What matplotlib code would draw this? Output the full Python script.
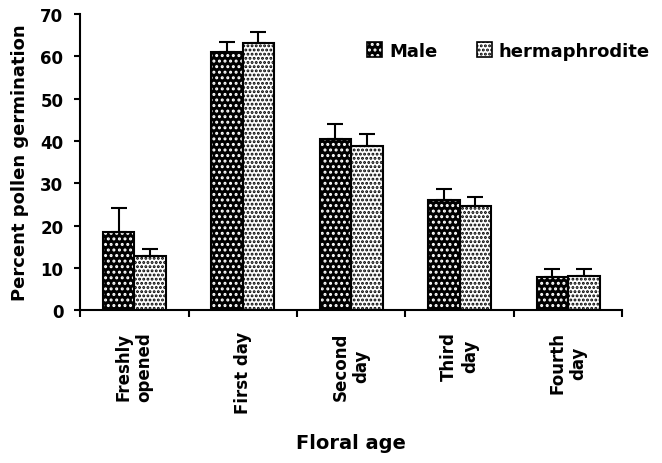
import numpy as np
import matplotlib
matplotlib.use("Agg")
import matplotlib.pyplot as plt
from matplotlib.patches import Patch

# Values
categories = ["Freshly\nopened", "First day", "Second\nday", "Third\nday", "Fourth\nday"]
male = [18.5, 61.0, 40.4, 26.0, 7.8]
male_err = [5.6, 2.3, 3.7, 2.7, 1.9]
herm = [12.8, 63.0, 38.8, 24.6, 8.2]
herm_err = [1.8, 2.7, 2.9, 2.2, 1.5]

plt.rcParams["font.family"] = ["DejaVu Sans"]
plt.rcParams["font.weight"] = "bold"
plt.rcParams["hatch.linewidth"] = 1.4


def main():
    fig = plt.figure(figsize=(6.62, 4.64), dpi=100)
    ax = fig.add_axes([0.121, 0.329, 0.819, 0.639])

    x = np.arange(len(categories))
    w = 0.29

    # hatched fills first, then black outlines on top
    ax.bar(x - w / 2, male, w, color="black", edgecolor="white", hatch="...", linewidth=0)
    ax.bar(x + w / 2, herm, w, color="white", edgecolor="black", hatch="....", linewidth=0)
    ax.bar(x - w / 2, male, w, fill=False, edgecolor="black", linewidth=1.5)
    ax.bar(x + w / 2, herm, w, fill=False, edgecolor="black", linewidth=1.5)

    ax.errorbar(x - w / 2, male, yerr=[np.zeros(len(male)), male_err], fmt="none",
                ecolor="black", elinewidth=1.5, capsize=6, capthick=1.5)
    ax.errorbar(x + w / 2, herm, yerr=[np.zeros(len(herm)), herm_err], fmt="none",
                ecolor="black", elinewidth=1.5, capsize=6, capthick=1.5)

    ax.set_xlim(-0.5, len(categories) - 0.5)
    ax.set_ylim(0, 70)
    ax.set_yticks(np.arange(0, 71, 10))
    ax.tick_params(axis="y", length=4, width=1.5, pad=8, labelsize=12)

    # boundary ticks on the x axis, category labels at group centres
    ax.set_xticks(np.arange(-0.5, len(categories), 1.0))
    ax.set_xticklabels([])
    ax.tick_params(axis="x", which="major", length=5, width=1.5)
    ax.set_xticks(x, minor=True)
    ax.set_xticklabels(categories, minor=True, rotation=90, ha="center",
                       va="top", multialignment="center", fontsize=12)
    ax.tick_params(axis="x", which="minor", length=0, pad=15)

    for side in ["top", "right"]:
        ax.spines[side].set_visible(False)
    for side in ["left", "bottom"]:
        ax.spines[side].set_linewidth(1.5)

    ax.set_ylabel("Percent pollen germination", fontsize=13, fontweight="bold", labelpad=8)
    ax.set_xlabel("Floral age", fontsize=14, fontweight="bold", labelpad=14)

    h_male = (Patch(facecolor="black", edgecolor="white", hatch="...", linewidth=0),
              Patch(fill=False, edgecolor="black", linewidth=1.2))
    h_herm = (Patch(facecolor="white", edgecolor="black", hatch="....", linewidth=0),
              Patch(fill=False, edgecolor="black", linewidth=1.2))
    ax.legend([h_male, h_herm], ["Male", "hermaphrodite"], frameon=False,
              loc="center left", bbox_to_anchor=(0.50, 0.875), ncol=2,
              handlelength=0.8, handleheight=0.9, handletextpad=0.4,
              columnspacing=2.2, fontsize=13)

    fig.savefig("out.png", dpi=100)
    plt.close(fig)


if __name__ == "__main__":
    main()
